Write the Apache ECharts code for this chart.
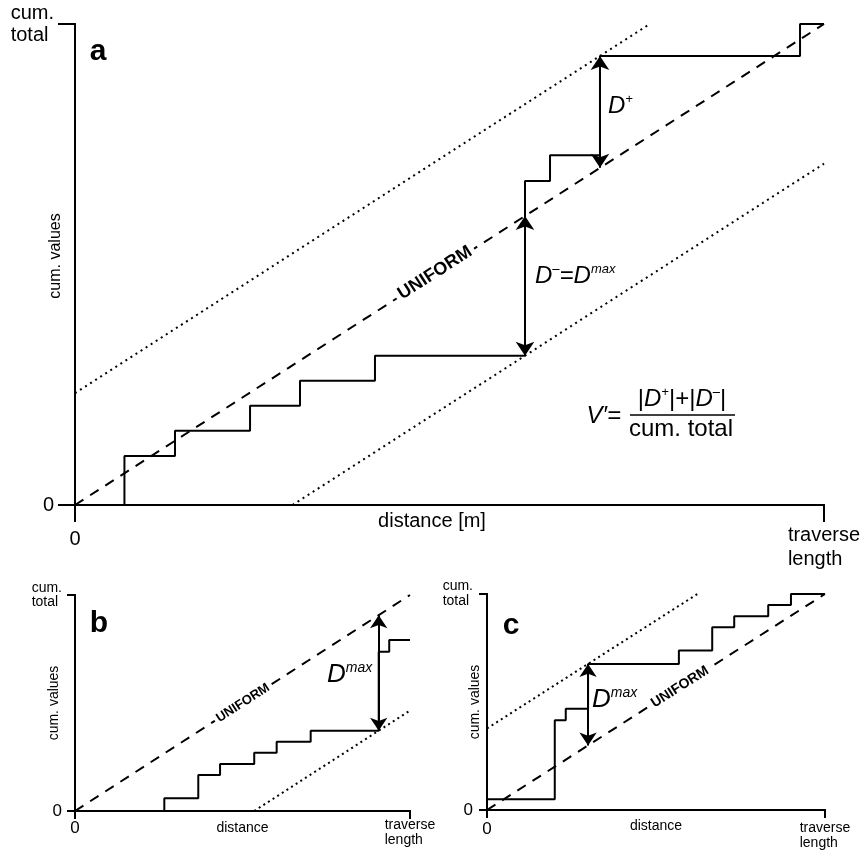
<!DOCTYPE html>
<html lang="en">
<head>
<meta charset="UTF-8">
<title>cum. values vs uniform</title>
<script src="https://cdn.jsdelivr.net/npm/echarts@6/dist/echarts.min.js"></script>
<style>
  html, body { margin: 0; padding: 0; background: #fff; }
  #main { width: 861px; height: 850px; }
</style>
</head>
<body>
<div id="main"></div>
<script>
// x = fraction of traverse length, y = fraction of cum. total
// step curves: y[i] is the level held from x[i] to x[i+1]
var aStepX = [0, 0.066, 0.1335, 0.2337, 0.3004, 0.4005, 0.6008, 0.6342, 0.7009, 0.968, 1];
var aStepY = [0, 0.102, 0.1545, 0.2065, 0.2585, 0.3104, 0.6736, 0.727, 0.9335, 1, 1];

var bStepX = [0, 0.2666, 0.368, 0.433, 0.535, 0.602, 0.7035, 0.9066, 0.938, 1];
var bStepY = [0, 0.059, 0.1667, 0.2176, 0.27, 0.321, 0.3718, 0.7375, 0.7917, 0.7917];

var cStepX = [0, 0.2005, 0.233, 0.299, 0.5677, 0.6663, 0.7314, 0.832, 0.8993, 1];
var cStepY = [0.0494, 0.416, 0.4686, 0.6765, 0.739, 0.8457, 0.8965, 0.949, 1, 1];

var uniformLine = [[0, 0], [1, 1]];
var xTickLabels = ['0', 'traverse\nlength'];
var yTickLabels = ['0', 'cum.\ntotal'];

var FONT = 'Liberation Sans, Arial, Helvetica, sans-serif';

function zip(xs, ys) {
    return xs.map(function (x, i) { return [x, ys[i]]; });
}
// line parallel to the uniform line, shifted by c, clipped to the box
function offsetLine(c) {
    return c >= 0 ? [[0, c], [1 - c, 1]] : [[-c, 0], [1, 1 + c]];
}

// D- and D+ in panel a, Dmax in b and c
var aDminus = { x: aStepX[6], y1: aStepX[6], y2: aStepY[5] };
var aDplus = { x: aStepX[8], y1: aStepY[8], y2: aStepX[8] };
var bDmax = { x: bStepX[7], y1: bStepX[7], y2: bStepY[6] };
var cDmax = { x: cStepX[3], y1: cStepY[3], y2: cStepX[3] };

var panels = [
    {
        grid: { left: 75, top: 24, width: 749, height: 481 },
        tick: 17, font: 20, zeroFont: 20, zeroPad: 6, xLh: 24, yLh: 22,
        xMargin: 18, yMargin: 21, xName: 'distance [m]', xNameGap: 6, xNamePad: [0, 35, 0, 0],
        yNameFont: 16, yNameGap: 11, yNamePad: [0, 0, 0, 17],
        dash: [10, 8], dot: [2, 4], arrow: 14,
        step: zip(aStepX, aStepY),
        dotted: [offsetLine(aStepY[8] - aStepX[8]), offsetLine(aStepY[5] - aStepX[6])],
        arrows: [aDminus, aDplus]
    },
    {
        grid: { left: 75, top: 595, width: 335, height: 216 },
        tick: 8, font: 14, zeroFont: 17, zeroPad: 2, xLh: 15, yLh: 14,
        xMargin: 7, yMargin: 13, xName: 'distance', xNameGap: 10, xNamePad: [0, 0, 0, 0],
        yNameFont: 14, yNameGap: 14, yNamePad: [0, 0, 0, 0],
        dash: [10, 8], dot: [2, 3.5], arrow: 13,
        step: zip(bStepX, bStepY),
        dotted: [offsetLine(bStepY[6] - bStepX[7])],
        arrows: [bDmax]
    },
    {
        grid: { left: 487, top: 594, width: 338, height: 216 },
        tick: 8, font: 14, zeroFont: 17, zeroPad: 0, xLh: 15, yLh: 15,
        xMargin: 11, yMargin: 14, xName: 'distance', xNameGap: 9, xNamePad: [0, 0, 0, 0],
        yNameFont: 14, yNameGap: 5, yNamePad: [0, 0, 0, 0],
        dash: [10, 8], dot: [2, 3.5], arrow: 13,
        step: zip(cStepX, cStepY),
        dotted: [offsetLine(cStepY[3] - cStepX[3])],
        arrows: [cDmax]
    }
];

var grids = [], xAxes = [], yAxes = [], series = [];
var black = { color: '#000', width: 2 };

panels.forEach(function (p, i) {
    grids.push(Object.assign({ containLabel: false, outerBoundsMode: 'none' }, p.grid));
    xAxes.push({
        gridIndex: i, type: 'value', min: 0, max: 1, interval: 1, position: 'bottom',
        axisLine: { show: true, lineStyle: black },
        axisTick: { show: true, length: p.tick, lineStyle: black },
        splitLine: { show: false },
        axisLabel: {
            margin: p.xMargin, showMinLabel: true, showMaxLabel: true, color: '#000',
            formatter: function (v) {
                return v === 0 ? '{z|' + xTickLabels[0] + '}'
                    : xTickLabels[1].split('\n').map(function (s) { return '{l|' + s + '}'; }).join('\n');
            },
            rich: {
                z: { fontSize: p.zeroFont, fontFamily: FONT, color: '#000', padding: [p.zeroPad, 0, 0, 0] },
                l: { fontSize: p.font, fontFamily: FONT, color: '#000', lineHeight: p.xLh, align: 'left' }
            }
        },
        name: p.xName, nameLocation: 'middle', nameGap: p.xNameGap, nameMoveOverlap: false,
        nameTextStyle: { fontSize: p.font, fontFamily: FONT, color: '#000', padding: p.xNamePad }
    });
    xAxes.push({
        gridIndex: i, type: 'value', min: 0, max: 1, position: 'top',
        axisLine: { show: true, lineStyle: black },
        axisTick: { show: false }, axisLabel: { show: false }, splitLine: { show: false }
    });
    yAxes.push({
        gridIndex: i, type: 'value', min: 0, max: 1, interval: 1, position: 'left',
        axisLine: { show: true, lineStyle: black },
        axisTick: { show: true, length: p.tick, lineStyle: black },
        splitLine: { show: false },
        axisLabel: {
            margin: p.yMargin, showMinLabel: true, showMaxLabel: true, color: '#000',
            formatter: function (v) {
                return v === 0 ? '{z|' + yTickLabels[0] + '}'
                    : yTickLabels[1].split('\n').map(function (s) { return '{l|' + s + '}'; }).join('\n');
            },
            rich: {
                z: { fontSize: p.zeroFont, fontFamily: FONT, color: '#000' },
                l: { fontSize: p.font, fontFamily: FONT, color: '#000', lineHeight: p.yLh, align: 'left' }
            }
        },
        name: 'cum. values', nameLocation: 'middle', nameRotate: 90, nameGap: p.yNameGap, nameMoveOverlap: false,
        nameTextStyle: { fontSize: p.yNameFont, fontFamily: FONT, color: '#000', padding: p.yNamePad }
    });
    yAxes.push({
        gridIndex: i, type: 'value', min: 0, max: 1, position: 'right',
        axisLine: { show: true, lineStyle: black },
        axisTick: { show: false }, axisLabel: { show: false }, splitLine: { show: false }
    });

    var ax = { xAxisIndex: 2 * i, yAxisIndex: 2 * i };
    series.push(Object.assign({
        type: 'line', data: uniformLine, symbol: 'none', silent: true,
        lineStyle: { color: '#000', width: 2, type: p.dash }
    }, ax));
    p.dotted.forEach(function (d) {
        series.push(Object.assign({
            type: 'line', data: d, symbol: 'none', silent: true,
            lineStyle: { color: '#000', width: 2, type: p.dot }
        }, ax));
    });
    series.push(Object.assign({
        type: 'line', step: 'end', data: p.step, symbol: 'none', silent: true,
        lineStyle: { color: '#000', width: 2 },
        markLine: {
            silent: true, symbol: ['arrow', 'arrow'], symbolSize: p.arrow,
            label: { show: false }, emphasis: { disabled: true },
            lineStyle: { color: '#000', width: 2, type: 'solid' },
            data: p.arrows.map(function (a) {
                return [{ coord: [a.x, a.y1] }, { coord: [a.x, a.y2] }];
            })
        }
    }, ax));
});

function txt(x, y, text, style, rot) {
    return {
        type: 'text', x: x, y: y, rotation: rot || 0, silent: true, z: 100,
        style: Object.assign({ text: text, fill: '#000', fontFamily: FONT, align: 'center', verticalAlign: 'middle' }, style)
    };
}
function dRich(size) {
    return {
        d: { fontSize: size, fontStyle: 'italic', fontFamily: FONT, lineHeight: size + 2 },
        s: { fontSize: Math.round(size * 0.55), fontStyle: 'italic', fontFamily: FONT, verticalAlign: 'top', lineHeight: Math.round(size * 0.45) }
    };
}

var graphics = [
    txt(98, 52, 'a', { fontSize: 30, fontWeight: 'bold' }),
    txt(99, 624, 'b', { fontSize: 30, fontWeight: 'bold' }),
    txt(511, 626, 'c', { fontSize: 30, fontWeight: 'bold' }),
    txt(435, 273, 'UNIFORM', { fontSize: 18, fontWeight: 'bold', backgroundColor: '#fff', padding: [0, 4] }, Math.atan(481 / 749)),
    txt(243, 703, 'UNIFORM', { fontSize: 13, fontWeight: 'bold', backgroundColor: '#fff', padding: [0, 3] }, Math.atan(216 / 335)),
    txt(680, 687, 'UNIFORM', { fontSize: 14, fontWeight: 'bold', backgroundColor: '#fff', padding: [0, 3] }, Math.atan(216 / 338)),
    txt(608, 106, '{d|D}{s|+}', { align: 'left', rich: dRich(24) }),
    txt(535, 276, '{d|D}{s|–}{d|=D}{s|max}', { align: 'left', rich: dRich(24) }),
    txt(327, 675, '{d|D}{s|max}', { align: 'left', rich: dRich(26) }),
    txt(592, 700, '{d|D}{s|max}', { align: 'left', rich: dRich(26) }),
    // V' formula
    txt(621, 416, "V′=", { align: 'right', fontSize: 24, fontStyle: 'italic' }),
    txt(682, 399, '{n||}{d|D}{s|+}{n||+|}{d|D}{s|–}{n||}', {
        rich: Object.assign(dRich(24), { n: { fontSize: 24, fontFamily: FONT, lineHeight: 26 } })
    }),
    {
        type: 'line', silent: true, z: 100,
        shape: { x1: 630, y1: 415, x2: 735, y2: 415 },
        style: { stroke: '#000', lineWidth: 1.5 }
    },
    txt(681, 429, 'cum. total', { fontSize: 24 })
];

var myChart = echarts.init(document.getElementById('main'));
myChart.setOption({
    animation: false,
    backgroundColor: '#fff',
    grid: grids,
    xAxis: xAxes,
    yAxis: yAxes,
    series: series,
    graphic: graphics
});
</script>
</body>
</html>
